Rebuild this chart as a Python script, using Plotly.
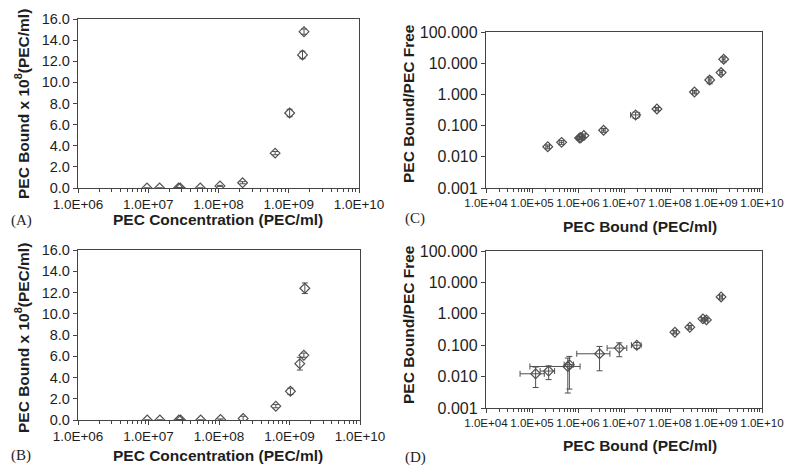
import plotly.graph_objects as go

# ---------------- data ----------------
# Panel A
a_x = [9.6e6, 1.45e7, 2.7e7, 2.85e7, 5.5e7, 1.05e8, 2.2e8, 6.4e8, 1.03e9, 1.57e9, 1.65e9]
a_y = [0.0, 0.0, 0.0, 0.0, 0.0, 0.2, 0.5, 3.3, 7.1, 12.6, 14.8]
a_err = [0.0, 0.0, 0.05, 0.05, 0.0, 0.05, 0.1, 0.15, 0.35, 0.35, 0.25]

# Panel B
b_x = [9.6e6, 1.45e7, 2.7e7, 2.85e7, 5.5e7, 1.05e8, 2.2e8, 6.4e8, 1.03e9, 1.4e9, 1.6e9, 1.65e9]
b_y = [0.0, 0.0, 0.0, 0.0, 0.0, 0.05, 0.15, 1.3, 2.7, 5.3, 6.1, 12.4]
b_err = [0.0, 0.0, 0.05, 0.05, 0.0, 0.05, 0.2, 0.15, 0.3, 0.6, 0.2, 0.5]

# Panel C
c_x = [2.2e5, 4.4e5, 1.08e6, 1.15e6, 1.34e6, 3.6e6, 1.79e7, 5.2e7, 3.4e8, 7.3e8, 1.29e9, 1.47e9]
c_y = [0.021, 0.029, 0.040, 0.041, 0.048, 0.071, 0.22, 0.34, 1.19, 2.9, 5.0, 13.4]
c_yerr = [0.003, 0.004, 0.005, 0.005, 0.006, 0.01, 0.05, 0.04, 0.15, 0.7, 0.8, 2.5]
c_xerr = [2e4, 5e4, 1e5, 1e5, 1e5, 3e5, 4e6, 4e6, 3e7, 5e7, 8e7, 1e8]

# Panel D
d_x = [1.2e5, 2.3e5, 6.0e5, 6.5e5, 2.94e6, 7.9e6, 1.9e7, 1.28e8, 2.7e8, 5.2e8, 6.2e8, 1.29e9]
d_y = [0.0123, 0.0150, 0.021, 0.024, 0.0533, 0.081, 0.100, 0.26, 0.375, 0.69, 0.64, 3.45]
d_yerr = [0.0078, 0.0070, 0.018, 0.020, 0.038, 0.038, 0.022, 0.03, 0.05, 0.06, 0.05, 0.5]
d_xerr = [6.5e4, 8e4, 5.1e5, 1.5e5, 2.0e6, 3.6e6, 4.5e6, 1e7, 2e7, 4e7, 4e7, 1e8]

ab_xticks = [1e6, 1e7, 1e8, 1e9, 1e10]
ab_xtext = ["1.0E+06", "1.0E+07", "1.0E+08", "1.0E+09", "1.0E+10"]
cd_xticks = [1e4, 1e5, 1e6, 1e7, 1e8, 1e9, 1e10]
cd_xtext = ["1.0E+04", "1.0E+05", "1.0E+06", "1.0E+07", "1.0E+08", "1.0E+09", "1.0E+10"]
cd_yticks = [0.001, 0.01, 0.1, 1, 10, 100]
cd_ytext = ["0.001", "0.010", "0.100", "1.000", "10.000", "100.000"]

# ---------------- figure ----------------
# the page body has an 8px margin, so the figure is 792x466 and
# every page position is converted by subtracting that offset
OFF = 8
W, H = 800 - 2 * OFF, 474 - 2 * OFF
MC = "#505050"
AX = "#444444"
TXT = "#1e1e1e"
SANS = "Liberation Sans, Arial, sans-serif"
SERIF = "Liberation Serif, Times New Roman, serif"


def px_x(x0, x1):
    return [(x0 - OFF) / W, (x1 - OFF) / W]


def px_y(y_top, y_bot):
    return [1 - (y_bot - OFF) / H, 1 - (y_top - OFF) / H]


fig = go.Figure()

marker = dict(symbol="diamond-open", size=7.5, color=MC, line=dict(width=1.2, color=MC))
eb = dict(color=MC, thickness=1, width=3)

fig.add_trace(go.Scatter(x=a_x, y=a_y, mode="markers", marker=marker,
                         error_y=dict(type="data", array=a_err, **eb),
                         xaxis="x", yaxis="y", showlegend=False))
fig.add_trace(go.Scatter(x=b_x, y=b_y, mode="markers", marker=marker,
                         error_y=dict(type="data", array=b_err, **eb),
                         xaxis="x2", yaxis="y2", showlegend=False))
fig.add_trace(go.Scatter(x=c_x, y=c_y, mode="markers", marker=marker,
                         error_y=dict(type="data", array=c_yerr, **eb),
                         error_x=dict(type="data", array=c_xerr, **eb),
                         xaxis="x3", yaxis="y3", showlegend=False))
fig.add_trace(go.Scatter(x=d_x, y=d_y, mode="markers", marker=marker,
                         error_y=dict(type="data", array=d_yerr, **eb),
                         error_x=dict(type="data", array=d_xerr, **eb),
                         xaxis="x4", yaxis="y4", showlegend=False))

common = dict(showline=True, linecolor=AX, linewidth=1.3, mirror=True, showgrid=False,
              zeroline=False, ticks="outside", ticklen=4, tickcolor=AX, tickwidth=1,
              automargin=False, tickangle=0)
minor = dict(ticks="outside", ticklen=3, tickcolor=AX, tickwidth=1, dtick="D1", showgrid=False)

xab = dict(type="log", range=[6, 10], tickmode="array", tickvals=ab_xticks, ticktext=ab_xtext,
           tickfont=dict(family=SANS, size=13.5, color=TXT), minor=minor, **common)
yab = dict(range=[0, 16], tickmode="linear", tick0=0, dtick=2, tickformat=".1f",
           tickfont=dict(family=SANS, size=14.5, color=TXT), **common)
xcd = dict(type="log", range=[4, 10], tickmode="array", tickvals=cd_xticks, ticktext=cd_xtext,
           tickfont=dict(family=SANS, size=11.6, color=TXT), minor=minor, **common)
ycd = dict(type="log", range=[-3, 2], tickmode="array", tickvals=cd_yticks, ticktext=cd_ytext,
           tickfont=dict(family=SANS, size=16, color=TXT), **common)

fig.update_layout(
    template="none",
    width=W, height=H, margin=dict(l=0, r=0, t=0, b=0, autoexpand=False),
    paper_bgcolor="white", plot_bgcolor="white",
    xaxis=dict(domain=px_x(78, 359), anchor="y", **xab),
    yaxis=dict(domain=px_y(19, 188), anchor="x", **yab),
    xaxis2=dict(domain=px_x(78, 360), anchor="y2", **xab),
    yaxis2=dict(domain=px_y(250, 420), anchor="x2", **yab),
    xaxis3=dict(domain=px_x(486, 762), anchor="y3", **xcd),
    yaxis3=dict(domain=px_y(32, 188), anchor="x3", **ycd),
    xaxis4=dict(domain=px_x(486, 762), anchor="y4", **xcd),
    yaxis4=dict(domain=px_y(251, 408), anchor="x4", **ycd),
)


def ann(text, x, y, size=13, family=SANS, angle=0, bold=True, xanchor="center"):
    fig.add_annotation(text=("<b>%s</b>" % text) if bold else text,
                       x=(x - OFF) / W, y=1 - (y - OFF) / H, xref="paper", yref="paper",
                       showarrow=False, textangle=angle, xanchor=xanchor, yanchor="middle",
                       font=dict(family=family, size=size, color=TXT))


TS = 15.5
# axis titles
ann("PEC Concentration (PEC/ml)", 218, 219, size=TS)
ann("PEC Bound x 10<sup>8</sup>(PEC/ml)", 22, 104, size=TS, angle=-90)
ann("PEC Concentration (PEC/ml)", 218, 455, size=TS)
ann("PEC Bound x 10<sup>8</sup>(PEC/ml)", 22, 338, size=TS, angle=-90)
ann("PEC Bound (PEC/ml)", 640, 226, size=TS)
ann("PEC Bound/PEC Free", 408, 104, size=TS, angle=-90)
ann("PEC Bound (PEC/ml)", 640, 445, size=TS)
ann("PEC Bound/PEC Free", 408, 325, size=TS, angle=-90)

# panel labels
ann("(A)", 9, 220, size=15, family=SERIF, bold=False, xanchor="left")
ann("(B)", 9, 455, size=15, family=SERIF, bold=False, xanchor="left")
ann("(C)", 403, 218, size=15, family=SERIF, bold=False, xanchor="left")
ann("(D)", 403, 457, size=15, family=SERIF, bold=False, xanchor="left")

fig.write_html("out.html")
